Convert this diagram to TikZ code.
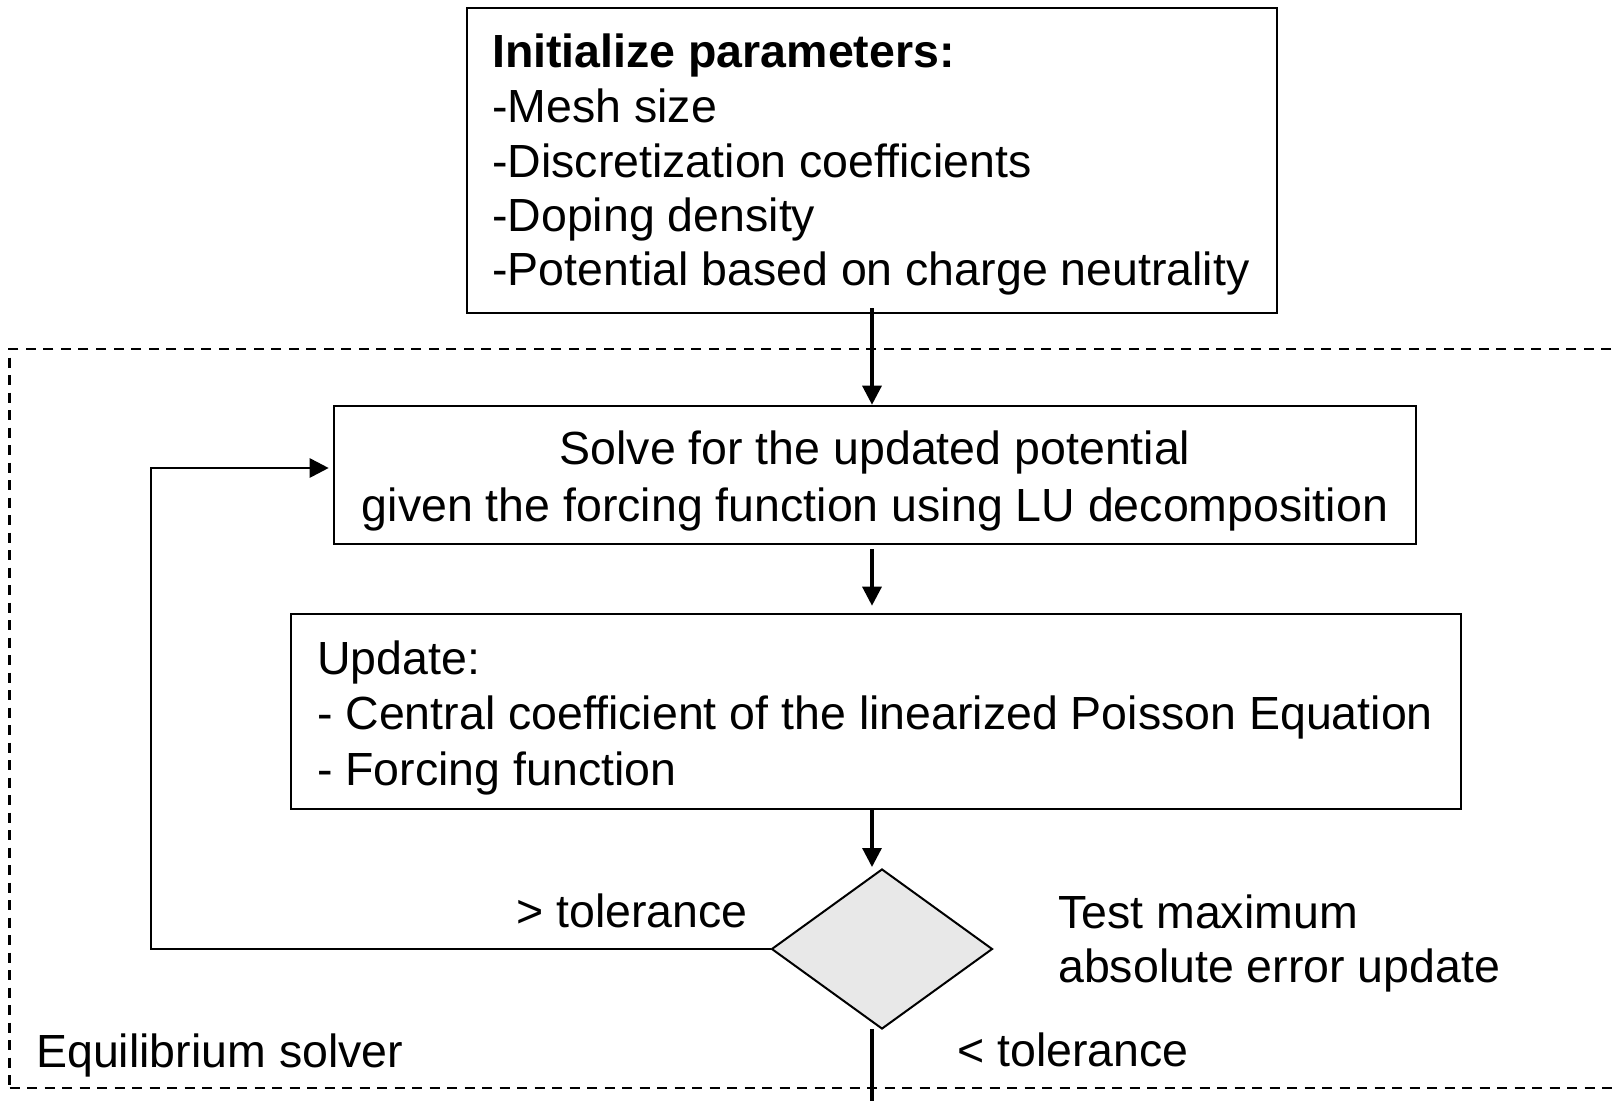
\documentclass[tikz,border=0pt]{standalone}
\usepackage{fontspec}
\setmainfont{Liberation Sans}
\usetikzlibrary{shapes.geometric,arrows.meta,calc}

\tikzset{
  stepbox/.style={draw=black, line width=2.6pt, fill=white, inner sep=0pt, rectangle},
  decbox/.style={draw=black, line width=2pt, fill=black!9, diamond, inner sep=0pt,
                 minimum width=221pt, minimum height=160pt},
  regionbox/.style={draw=black, line width=2.2pt, dash pattern=on 10pt off 7.5pt,
                 rectangle, inner sep=0pt},
  txt/.style={inner sep=0pt, anchor=base west, font=\fontsize{46.5}{54}\selectfont},
  ctxt/.style={inner sep=0pt, anchor=base, font=\fontsize{46.5}{54}\selectfont},
  flow/.style={draw=black, line width=3.2pt, -{Triangle[length=19pt, width=19pt]}},
  plain/.style={draw=black, line width=3.2pt},
}

\begin{document}
\begin{tikzpicture}[x=1pt, y=-1pt]
\useasboundingbox (0,0) rectangle (1612,1101);

% Dashed region of the equilibrium solver (open to the right)
\node[regionbox, minimum width=1630pt, minimum height=739pt] (region) at (824.5,718.5) {};

% Process boxes
\node[stepbox, minimum width=810pt, minimum height=305pt] (init) at (872,160.5) {};
\node[stepbox, minimum width=1082pt, minimum height=138pt] (solve) at (875,475) {};
\node[stepbox, minimum width=1170pt, minimum height=195pt] (update) at (876,711.5) {};
\node[decbox] (dec) at (882,949) {};

% Box texts
\node[txt] (t1) at (492,67) {\bfseries Initialize parameters:};
\node[txt] (t2) at (492,122) {-Mesh size};
\node[txt] (t3) at (492,177) {-Discretization coefficients};
\node[txt] (t4) at (492,231) {-Doping density};
\node[txt] (t5) at (492,285) {-Potential based on charge neutrality};

\node[ctxt] (s1) at (875,464) {Solve for the updated potential};
\node[ctxt] (s2) at (875,521) {given the forcing function using LU decomposition};

\node[txt] (u1) at (317,674) {Update:};
\node[txt] (u2) at (317,729) {- Central coefficient of the linearized Poisson Equation};
\node[txt] (u3) at (317,785) {- Forcing function};

% Labels around the decision
\node[txt] (gt) at (516,927) {> tolerance};
\node[txt] (q1) at (1058,928) {Test maximum};
\node[txt] (q2) at (1058,982) {absolute error update};
\node[txt] (lt) at (957,1066) {< tolerance};
\node[txt] (eq) at (36,1067) {Equilibrium solver};

% Connectors
\coordinate (axis) at (872,0);
\coordinate (lc) at (151,949);
\coordinate (exit) at (872,1101);

\draw[flow] ([yshift=6pt]axis |- init.south) -- (axis |- solve.north);
\draw[flow, shorten <=4pt, shorten >=7pt] (axis |- solve.south) -- (axis |- update.north);
\draw[flow, shorten >=1pt] (axis |- update.south) -- (axis |- dec.north);
\draw[flow, line width=2.8pt, shorten >=4pt] (dec.west) -- (lc) |- ([yshift=7pt]solve.west);
\draw[plain] ([yshift=1pt]axis |- dec.south) -- (exit);
\end{tikzpicture}
\end{document}
